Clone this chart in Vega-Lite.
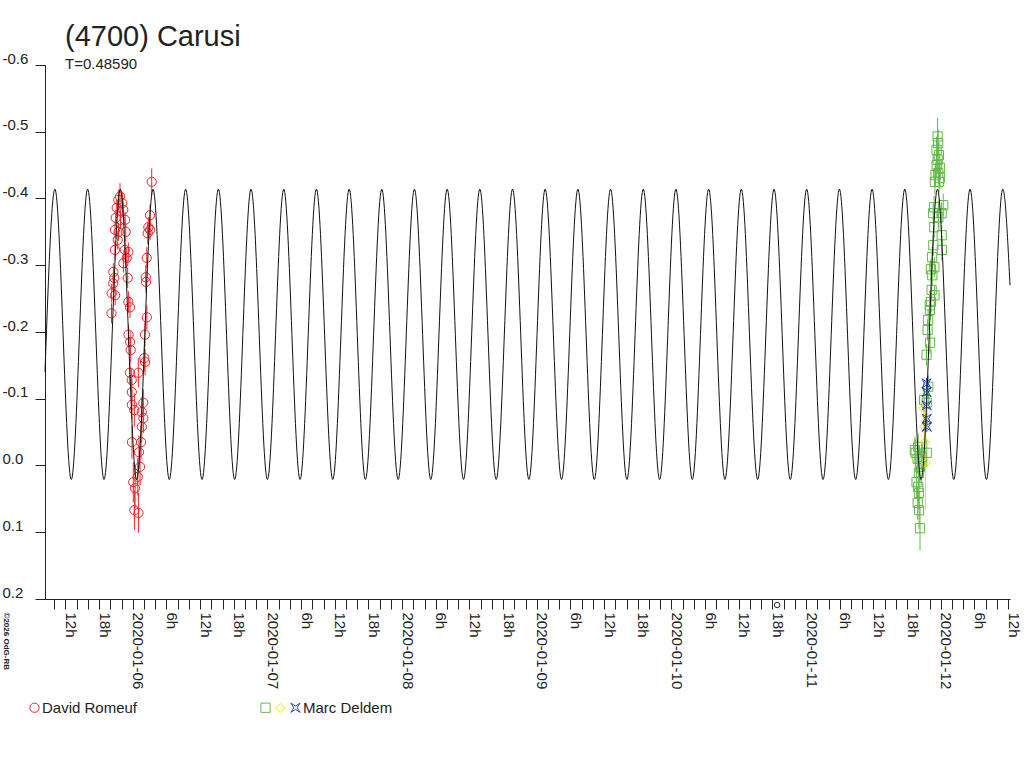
{
  "$schema": "https://vega.github.io/schema/vega-lite/v6.json",
  "width": 965,
  "height": 534,
  "autosize": {"type": "none"},
  "padding": {"left": 45, "top": 65, "right": 14, "bottom": 169},
  "background": "white",
  "config": {
    "view": {"stroke": null},
    "font": "Liberation Sans"
  },
  "title": {
    "text": "(4700) Carusi",
    "subtitle": "T=0.48590",
    "anchor": "start",
    "frame": "group",
    "dx": 20,
    "offset": -21,
    "fontSize": 29,
    "fontWeight": "normal",
    "color": "#222222",
    "subtitleFontSize": 15,
    "subtitleColor": "#222222",
    "subtitlePadding": 5
  },
  "datasets": {
    "model": [
      {"t": "2020-01-05T08:22", "mag": -0.14},
      {"t": "2020-01-05T10:08", "mag": -0.414},
      {"t": "2020-01-05T13:03", "mag": 0.021},
      {"t": "2020-01-05T15:58", "mag": -0.414},
      {"t": "2020-01-05T18:53", "mag": 0.021},
      {"t": "2020-01-05T21:47", "mag": -0.414},
      {"t": "2020-01-06T00:42", "mag": 0.021},
      {"t": "2020-01-06T03:37", "mag": -0.414},
      {"t": "2020-01-06T06:31", "mag": 0.021},
      {"t": "2020-01-06T09:26", "mag": -0.414},
      {"t": "2020-01-06T12:21", "mag": 0.021},
      {"t": "2020-01-06T15:16", "mag": -0.414},
      {"t": "2020-01-06T18:10", "mag": 0.021},
      {"t": "2020-01-06T21:05", "mag": -0.414},
      {"t": "2020-01-07T00:00", "mag": 0.021},
      {"t": "2020-01-07T02:55", "mag": -0.414},
      {"t": "2020-01-07T05:49", "mag": 0.021},
      {"t": "2020-01-07T08:44", "mag": -0.414},
      {"t": "2020-01-07T11:39", "mag": 0.021},
      {"t": "2020-01-07T14:34", "mag": -0.414},
      {"t": "2020-01-07T17:28", "mag": 0.021},
      {"t": "2020-01-07T20:23", "mag": -0.414},
      {"t": "2020-01-07T23:18", "mag": 0.021},
      {"t": "2020-01-08T02:12", "mag": -0.414},
      {"t": "2020-01-08T05:07", "mag": 0.021},
      {"t": "2020-01-08T08:02", "mag": -0.414},
      {"t": "2020-01-08T10:57", "mag": 0.021},
      {"t": "2020-01-08T13:51", "mag": -0.414},
      {"t": "2020-01-08T16:46", "mag": 0.021},
      {"t": "2020-01-08T19:41", "mag": -0.414},
      {"t": "2020-01-08T22:36", "mag": 0.021},
      {"t": "2020-01-09T01:30", "mag": -0.414},
      {"t": "2020-01-09T04:25", "mag": 0.021},
      {"t": "2020-01-09T07:20", "mag": -0.414},
      {"t": "2020-01-09T10:15", "mag": 0.021},
      {"t": "2020-01-09T13:09", "mag": -0.414},
      {"t": "2020-01-09T16:04", "mag": 0.021},
      {"t": "2020-01-09T18:59", "mag": -0.414},
      {"t": "2020-01-09T21:54", "mag": 0.021},
      {"t": "2020-01-10T00:48", "mag": -0.414},
      {"t": "2020-01-10T03:43", "mag": 0.021},
      {"t": "2020-01-10T06:38", "mag": -0.414},
      {"t": "2020-01-10T09:32", "mag": 0.021},
      {"t": "2020-01-10T12:27", "mag": -0.414},
      {"t": "2020-01-10T15:22", "mag": 0.021},
      {"t": "2020-01-10T18:17", "mag": -0.414},
      {"t": "2020-01-10T21:11", "mag": 0.021},
      {"t": "2020-01-11T00:06", "mag": -0.414},
      {"t": "2020-01-11T03:01", "mag": 0.021},
      {"t": "2020-01-11T05:56", "mag": -0.414},
      {"t": "2020-01-11T08:50", "mag": 0.021},
      {"t": "2020-01-11T11:45", "mag": -0.414},
      {"t": "2020-01-11T14:40", "mag": 0.021},
      {"t": "2020-01-11T17:35", "mag": -0.414},
      {"t": "2020-01-11T20:29", "mag": 0.021},
      {"t": "2020-01-11T23:24", "mag": -0.414},
      {"t": "2020-01-12T02:19", "mag": 0.021},
      {"t": "2020-01-12T05:13", "mag": -0.414},
      {"t": "2020-01-12T08:08", "mag": 0.021},
      {"t": "2020-01-12T11:03", "mag": -0.414},
      {"t": "2020-01-12T12:20", "mag": -0.27}
    ],
    "obs": [
      {"s": "R", "t": "2020-01-05T20:13", "mag": -0.228, "lo": -0.243, "hi": -0.213},
      {"s": "R", "t": "2020-01-05T20:15", "mag": -0.258, "lo": -0.272, "hi": -0.244},
      {"s": "R", "t": "2020-01-05T20:31", "mag": -0.273, "lo": -0.285, "hi": -0.261},
      {"s": "R", "t": "2020-01-05T20:33", "mag": -0.290, "lo": -0.303, "hi": -0.277},
      {"s": "R", "t": "2020-01-05T20:43", "mag": -0.281, "lo": -0.293, "hi": -0.269},
      {"s": "R", "t": "2020-01-05T20:50", "mag": -0.323, "lo": -0.337, "hi": -0.309},
      {"s": "R", "t": "2020-01-05T20:51", "mag": -0.353, "lo": -0.366, "hi": -0.340},
      {"s": "R", "t": "2020-01-05T20:52", "mag": -0.255, "lo": -0.270, "hi": -0.240},
      {"s": "R", "t": "2020-01-05T20:58", "mag": -0.371, "lo": -0.383, "hi": -0.359},
      {"s": "R", "t": "2020-01-05T21:09", "mag": -0.386, "lo": -0.399, "hi": -0.373},
      {"s": "R", "t": "2020-01-05T21:20", "mag": -0.338, "lo": -0.352, "hi": -0.324},
      {"s": "R", "t": "2020-01-05T21:26", "mag": -0.398, "lo": -0.413, "hi": -0.383},
      {"s": "R", "t": "2020-01-05T21:28", "mag": -0.350, "lo": -0.363, "hi": -0.337},
      {"s": "R", "t": "2020-01-05T21:44", "mag": -0.403, "lo": -0.423, "hi": -0.383},
      {"s": "R", "t": "2020-01-05T21:49", "mag": -0.368, "lo": -0.382, "hi": -0.354},
      {"s": "R", "t": "2020-01-05T22:09", "mag": -0.393, "lo": -0.408, "hi": -0.378},
      {"s": "R", "t": "2020-01-05T22:19", "mag": -0.383, "lo": -0.396, "hi": -0.370},
      {"s": "R", "t": "2020-01-05T22:20", "mag": -0.303, "lo": -0.317, "hi": -0.289},
      {"s": "R", "t": "2020-01-05T22:36", "mag": -0.323, "lo": -0.338, "hi": -0.308},
      {"s": "R", "t": "2020-01-05T22:38", "mag": -0.368, "lo": -0.380, "hi": -0.356},
      {"s": "R", "t": "2020-01-05T22:45", "mag": -0.350, "lo": -0.364, "hi": -0.336},
      {"s": "R", "t": "2020-01-05T22:56", "mag": -0.311, "lo": -0.327, "hi": -0.295},
      {"s": "R", "t": "2020-01-05T23:06", "mag": -0.281, "lo": -0.296, "hi": -0.266},
      {"s": "R", "t": "2020-01-05T23:13", "mag": -0.320, "lo": -0.334, "hi": -0.306},
      {"s": "R", "t": "2020-01-05T23:14", "mag": -0.245, "lo": -0.261, "hi": -0.229},
      {"s": "R", "t": "2020-01-05T23:15", "mag": -0.196, "lo": -0.211, "hi": -0.181},
      {"s": "R", "t": "2020-01-05T23:30", "mag": -0.139, "lo": -0.157, "hi": -0.121},
      {"s": "R", "t": "2020-01-05T23:31", "mag": -0.237, "lo": -0.253, "hi": -0.221},
      {"s": "R", "t": "2020-01-05T23:32", "mag": -0.185, "lo": -0.202, "hi": -0.168},
      {"s": "R", "t": "2020-01-05T23:38", "mag": -0.173, "lo": -0.191, "hi": -0.155},
      {"s": "R", "t": "2020-01-05T23:49", "mag": -0.128, "lo": -0.146, "hi": -0.110},
      {"s": "R", "t": "2020-01-05T23:50", "mag": -0.110, "lo": -0.130, "hi": -0.090},
      {"s": "R", "t": "2020-01-05T23:51", "mag": -0.091, "lo": -0.113, "hi": -0.069},
      {"s": "R", "t": "2020-01-05T23:52", "mag": -0.035, "lo": -0.060, "hi": -0.010},
      {"s": "R", "t": "2020-01-06T00:06", "mag": 0.025, "lo": -0.005, "hi": 0.055},
      {"s": "R", "t": "2020-01-06T00:17", "mag": -0.083, "lo": -0.108, "hi": -0.058},
      {"s": "R", "t": "2020-01-06T00:18", "mag": 0.067, "lo": 0.037, "hi": 0.097},
      {"s": "R", "t": "2020-01-06T00:25", "mag": 0.034, "lo": 0.004, "hi": 0.064},
      {"s": "R", "t": "2020-01-06T00:54", "mag": 0.017, "lo": -0.011, "hi": 0.045},
      {"s": "R", "t": "2020-01-06T01:00", "mag": -0.139, "lo": -0.161, "hi": -0.117},
      {"s": "R", "t": "2020-01-06T01:01", "mag": 0.071, "lo": 0.041, "hi": 0.101},
      {"s": "R", "t": "2020-01-06T01:07", "mag": -0.020, "lo": -0.045, "hi": 0.005},
      {"s": "R", "t": "2020-01-06T01:18", "mag": 0.002, "lo": -0.026, "hi": 0.030},
      {"s": "R", "t": "2020-01-06T01:29", "mag": -0.035, "lo": -0.060, "hi": -0.010},
      {"s": "R", "t": "2020-01-06T01:36", "mag": -0.080, "lo": -0.102, "hi": -0.058},
      {"s": "R", "t": "2020-01-06T01:37", "mag": -0.058, "lo": -0.082, "hi": -0.034},
      {"s": "R", "t": "2020-01-06T01:53", "mag": -0.094, "lo": -0.114, "hi": -0.074},
      {"s": "R", "t": "2020-01-06T01:54", "mag": -0.071, "lo": -0.093, "hi": -0.049},
      {"s": "R", "t": "2020-01-06T02:04", "mag": -0.161, "lo": -0.181, "hi": -0.141},
      {"s": "R", "t": "2020-01-06T02:11", "mag": -0.196, "lo": -0.214, "hi": -0.178},
      {"s": "R", "t": "2020-01-06T02:12", "mag": -0.155, "lo": -0.175, "hi": -0.135},
      {"s": "R", "t": "2020-01-06T02:19", "mag": -0.282, "lo": -0.300, "hi": -0.264},
      {"s": "R", "t": "2020-01-06T02:22", "mag": -0.275, "lo": -0.292, "hi": -0.258},
      {"s": "R", "t": "2020-01-06T02:30", "mag": -0.311, "lo": -0.327, "hi": -0.295},
      {"s": "R", "t": "2020-01-06T02:31", "mag": -0.222, "lo": -0.240, "hi": -0.204},
      {"s": "R", "t": "2020-01-06T02:40", "mag": -0.348, "lo": -0.364, "hi": -0.332},
      {"s": "R", "t": "2020-01-06T02:47", "mag": -0.357, "lo": -0.372, "hi": -0.342},
      {"s": "R", "t": "2020-01-06T03:05", "mag": -0.375, "lo": -0.391, "hi": -0.359},
      {"s": "R", "t": "2020-01-06T03:06", "mag": -0.353, "lo": -0.368, "hi": -0.338},
      {"s": "R", "t": "2020-01-06T03:23", "mag": -0.425, "lo": -0.445, "hi": -0.405},
      {"s": "Dg", "t": "2020-01-11T19:23", "mag": -0.023, "lo": -0.043, "hi": -0.003},
      {"s": "Dg", "t": "2020-01-11T19:31", "mag": -0.019, "lo": -0.039, "hi": 0.001},
      {"s": "Dg", "t": "2020-01-11T19:41", "mag": 0.025, "lo": 0.000, "hi": 0.050},
      {"s": "Dg", "t": "2020-01-11T19:52", "mag": -0.010, "lo": -0.032, "hi": 0.012},
      {"s": "Dg", "t": "2020-01-11T19:53", "mag": 0.056, "lo": 0.031, "hi": 0.081},
      {"s": "Dg", "t": "2020-01-11T19:58", "mag": -0.028, "lo": -0.048, "hi": -0.008},
      {"s": "Dg", "t": "2020-01-11T19:59", "mag": 0.032, "lo": 0.008, "hi": 0.056},
      {"s": "Dg", "t": "2020-01-11T20:06", "mag": 0.011, "lo": -0.011, "hi": 0.033},
      {"s": "Dg", "t": "2020-01-11T20:07", "mag": 0.041, "lo": 0.016, "hi": 0.066},
      {"s": "Dg", "t": "2020-01-11T20:08", "mag": 0.067, "lo": 0.039, "hi": 0.095},
      {"s": "Dg", "t": "2020-01-11T20:17", "mag": 0.002, "lo": -0.020, "hi": 0.024},
      {"s": "Dg", "t": "2020-01-11T20:18", "mag": 0.094, "lo": 0.061, "hi": 0.127},
      {"s": "Dg", "t": "2020-01-11T20:35", "mag": -0.013, "lo": -0.033, "hi": 0.007},
      {"s": "Dg", "t": "2020-01-11T21:02", "mag": -0.098, "lo": -0.116, "hi": -0.080},
      {"s": "Dg", "t": "2020-01-11T21:28", "mag": -0.166, "lo": -0.182, "hi": -0.150},
      {"s": "Dg", "t": "2020-01-11T21:29", "mag": -0.094, "lo": -0.112, "hi": -0.076},
      {"s": "Dg", "t": "2020-01-11T21:30", "mag": -0.019, "lo": -0.039, "hi": 0.001},
      {"s": "Dg", "t": "2020-01-11T21:39", "mag": -0.203, "lo": -0.219, "hi": -0.187},
      {"s": "Dg", "t": "2020-01-11T21:45", "mag": -0.218, "lo": -0.233, "hi": -0.203},
      {"s": "Dg", "t": "2020-01-11T21:46", "mag": -0.118, "lo": -0.136, "hi": -0.100},
      {"s": "Dg", "t": "2020-01-11T22:03", "mag": -0.240, "lo": -0.255, "hi": -0.225},
      {"s": "Dg", "t": "2020-01-11T22:04", "mag": -0.233, "lo": -0.249, "hi": -0.217},
      {"s": "Dg", "t": "2020-01-11T22:05", "mag": -0.184, "lo": -0.201, "hi": -0.167},
      {"s": "Dg", "t": "2020-01-11T22:14", "mag": -0.294, "lo": -0.309, "hi": -0.279},
      {"s": "Dg", "t": "2020-01-11T22:15", "mag": -0.245, "lo": -0.261, "hi": -0.229},
      {"s": "Dg", "t": "2020-01-11T22:22", "mag": -0.263, "lo": -0.278, "hi": -0.248},
      {"s": "Dg", "t": "2020-01-11T22:28", "mag": -0.312, "lo": -0.328, "hi": -0.296},
      {"s": "Dg", "t": "2020-01-11T22:29", "mag": -0.285, "lo": -0.300, "hi": -0.270},
      {"s": "Dg", "t": "2020-01-11T22:39", "mag": -0.378, "lo": -0.394, "hi": -0.362},
      {"s": "Dg", "t": "2020-01-11T22:40", "mag": -0.330, "lo": -0.346, "hi": -0.314},
      {"s": "Dg", "t": "2020-01-11T22:49", "mag": -0.387, "lo": -0.404, "hi": -0.370},
      {"s": "Dg", "t": "2020-01-11T22:50", "mag": -0.357, "lo": -0.373, "hi": -0.341},
      {"s": "Dg", "t": "2020-01-11T22:51", "mag": -0.297, "lo": -0.312, "hi": -0.282},
      {"s": "Dg", "t": "2020-01-11T22:52", "mag": -0.255, "lo": -0.270, "hi": -0.240},
      {"s": "Dg", "t": "2020-01-11T22:57", "mag": -0.425, "lo": -0.443, "hi": -0.407},
      {"s": "Dg", "t": "2020-01-11T23:04", "mag": -0.435, "lo": -0.453, "hi": -0.417},
      {"s": "Dg", "t": "2020-01-11T23:15", "mag": -0.473, "lo": -0.493, "hi": -0.453},
      {"s": "Dg", "t": "2020-01-11T23:16", "mag": -0.450, "lo": -0.468, "hi": -0.432},
      {"s": "Dg", "t": "2020-01-11T23:26", "mag": -0.493, "lo": -0.521, "hi": -0.465},
      {"s": "Dg", "t": "2020-01-11T23:27", "mag": -0.458, "lo": -0.476, "hi": -0.440},
      {"s": "Dg", "t": "2020-01-11T23:32", "mag": -0.483, "lo": -0.503, "hi": -0.463},
      {"s": "Dg", "t": "2020-01-11T23:33", "mag": -0.438, "lo": -0.455, "hi": -0.421},
      {"s": "Dg", "t": "2020-01-11T23:34", "mag": -0.372, "lo": -0.388, "hi": -0.356},
      {"s": "Dg", "t": "2020-01-11T23:40", "mag": -0.465, "lo": -0.485, "hi": -0.445},
      {"s": "Dg", "t": "2020-01-11T23:41", "mag": -0.425, "lo": -0.442, "hi": -0.408},
      {"s": "Dg", "t": "2020-01-11T23:50", "mag": -0.446, "lo": -0.464, "hi": -0.428},
      {"s": "Dg", "t": "2020-01-11T23:51", "mag": -0.431, "lo": -0.448, "hi": -0.414},
      {"s": "Dg", "t": "2020-01-12T00:09", "mag": -0.378, "lo": -0.394, "hi": -0.362},
      {"s": "Dg", "t": "2020-01-12T00:10", "mag": -0.345, "lo": -0.361, "hi": -0.329},
      {"s": "Dg", "t": "2020-01-12T00:11", "mag": -0.323, "lo": -0.339, "hi": -0.307},
      {"s": "Dg", "t": "2020-01-12T00:26", "mag": -0.390, "lo": -0.407, "hi": -0.373},
      {"s": "Dy", "t": "2020-01-11T20:52", "mag": -0.086, "lo": -0.116, "hi": -0.056},
      {"s": "Dy", "t": "2020-01-11T21:02", "mag": -0.058, "lo": -0.093, "hi": -0.023},
      {"s": "Dy", "t": "2020-01-11T21:10", "mag": -0.035, "lo": -0.075, "hi": 0.005},
      {"s": "Dy", "t": "2020-01-11T21:17", "mag": -0.004, "lo": -0.074, "hi": 0.066},
      {"s": "Db", "t": "2020-01-11T21:27", "mag": -0.123, "lo": -0.131, "hi": -0.115},
      {"s": "Db", "t": "2020-01-11T21:28", "mag": -0.110, "lo": -0.118, "hi": -0.102},
      {"s": "Db", "t": "2020-01-11T21:29", "mag": -0.090, "lo": -0.098, "hi": -0.082},
      {"s": "Db", "t": "2020-01-11T21:30", "mag": -0.070, "lo": -0.078, "hi": -0.062},
      {"s": "Db", "t": "2020-01-11T21:31", "mag": -0.058, "lo": -0.066, "hi": -0.050}
    ],
    "marker": [
      {"t": "2020-01-10T18:50", "mag": 0.209}
    ]
  },
  "layer": [
    {
      "data": {"name": "obs"},
      "mark": {"type": "rule", "strokeWidth": 1},
      "encoding": {
        "x": {
          "field": "t",
          "type": "temporal",
          "scale": {
            "domain": [
              {"year": 2020, "month": 1, "date": 5, "hours": 8, "minutes": 22},
              {"year": 2020, "month": 1, "date": 12, "hours": 12, "minutes": 20}
            ]
          },
          "axis": {
            "grid": false,
            "tickCount": 200,
            "values": [
              {"year": 2020, "month": 1, "date": 5, "hours": 10}, {"year": 2020, "month": 1, "date": 5, "hours": 12},
              {"year": 2020, "month": 1, "date": 5, "hours": 14}, {"year": 2020, "month": 1, "date": 5, "hours": 16},
              {"year": 2020, "month": 1, "date": 5, "hours": 18}, {"year": 2020, "month": 1, "date": 5, "hours": 20},
              {"year": 2020, "month": 1, "date": 5, "hours": 22},
              {"year": 2020, "month": 1, "date": 6, "hours": 0}, {"year": 2020, "month": 1, "date": 6, "hours": 2},
              {"year": 2020, "month": 1, "date": 6, "hours": 4}, {"year": 2020, "month": 1, "date": 6, "hours": 6},
              {"year": 2020, "month": 1, "date": 6, "hours": 8}, {"year": 2020, "month": 1, "date": 6, "hours": 10},
              {"year": 2020, "month": 1, "date": 6, "hours": 12}, {"year": 2020, "month": 1, "date": 6, "hours": 14},
              {"year": 2020, "month": 1, "date": 6, "hours": 16}, {"year": 2020, "month": 1, "date": 6, "hours": 18},
              {"year": 2020, "month": 1, "date": 6, "hours": 20}, {"year": 2020, "month": 1, "date": 6, "hours": 22},
              {"year": 2020, "month": 1, "date": 7, "hours": 0}, {"year": 2020, "month": 1, "date": 7, "hours": 2},
              {"year": 2020, "month": 1, "date": 7, "hours": 4}, {"year": 2020, "month": 1, "date": 7, "hours": 6},
              {"year": 2020, "month": 1, "date": 7, "hours": 8}, {"year": 2020, "month": 1, "date": 7, "hours": 10},
              {"year": 2020, "month": 1, "date": 7, "hours": 12}, {"year": 2020, "month": 1, "date": 7, "hours": 14},
              {"year": 2020, "month": 1, "date": 7, "hours": 16}, {"year": 2020, "month": 1, "date": 7, "hours": 18},
              {"year": 2020, "month": 1, "date": 7, "hours": 20}, {"year": 2020, "month": 1, "date": 7, "hours": 22},
              {"year": 2020, "month": 1, "date": 8, "hours": 0}, {"year": 2020, "month": 1, "date": 8, "hours": 2},
              {"year": 2020, "month": 1, "date": 8, "hours": 4}, {"year": 2020, "month": 1, "date": 8, "hours": 6},
              {"year": 2020, "month": 1, "date": 8, "hours": 8}, {"year": 2020, "month": 1, "date": 8, "hours": 10},
              {"year": 2020, "month": 1, "date": 8, "hours": 12}, {"year": 2020, "month": 1, "date": 8, "hours": 14},
              {"year": 2020, "month": 1, "date": 8, "hours": 16}, {"year": 2020, "month": 1, "date": 8, "hours": 18},
              {"year": 2020, "month": 1, "date": 8, "hours": 20}, {"year": 2020, "month": 1, "date": 8, "hours": 22},
              {"year": 2020, "month": 1, "date": 9, "hours": 0}, {"year": 2020, "month": 1, "date": 9, "hours": 2},
              {"year": 2020, "month": 1, "date": 9, "hours": 4}, {"year": 2020, "month": 1, "date": 9, "hours": 6},
              {"year": 2020, "month": 1, "date": 9, "hours": 8}, {"year": 2020, "month": 1, "date": 9, "hours": 10},
              {"year": 2020, "month": 1, "date": 9, "hours": 12}, {"year": 2020, "month": 1, "date": 9, "hours": 14},
              {"year": 2020, "month": 1, "date": 9, "hours": 16}, {"year": 2020, "month": 1, "date": 9, "hours": 18},
              {"year": 2020, "month": 1, "date": 9, "hours": 20}, {"year": 2020, "month": 1, "date": 9, "hours": 22},
              {"year": 2020, "month": 1, "date": 10, "hours": 0}, {"year": 2020, "month": 1, "date": 10, "hours": 2},
              {"year": 2020, "month": 1, "date": 10, "hours": 4}, {"year": 2020, "month": 1, "date": 10, "hours": 6},
              {"year": 2020, "month": 1, "date": 10, "hours": 8}, {"year": 2020, "month": 1, "date": 10, "hours": 10},
              {"year": 2020, "month": 1, "date": 10, "hours": 12}, {"year": 2020, "month": 1, "date": 10, "hours": 14},
              {"year": 2020, "month": 1, "date": 10, "hours": 16}, {"year": 2020, "month": 1, "date": 10, "hours": 18},
              {"year": 2020, "month": 1, "date": 10, "hours": 20}, {"year": 2020, "month": 1, "date": 10, "hours": 22},
              {"year": 2020, "month": 1, "date": 11, "hours": 0}, {"year": 2020, "month": 1, "date": 11, "hours": 2},
              {"year": 2020, "month": 1, "date": 11, "hours": 4}, {"year": 2020, "month": 1, "date": 11, "hours": 6},
              {"year": 2020, "month": 1, "date": 11, "hours": 8}, {"year": 2020, "month": 1, "date": 11, "hours": 10},
              {"year": 2020, "month": 1, "date": 11, "hours": 12}, {"year": 2020, "month": 1, "date": 11, "hours": 14},
              {"year": 2020, "month": 1, "date": 11, "hours": 16}, {"year": 2020, "month": 1, "date": 11, "hours": 18},
              {"year": 2020, "month": 1, "date": 11, "hours": 20}, {"year": 2020, "month": 1, "date": 11, "hours": 22},
              {"year": 2020, "month": 1, "date": 12, "hours": 0}, {"year": 2020, "month": 1, "date": 12, "hours": 2},
              {"year": 2020, "month": 1, "date": 12, "hours": 4}, {"year": 2020, "month": 1, "date": 12, "hours": 6},
              {"year": 2020, "month": 1, "date": 12, "hours": 8}, {"year": 2020, "month": 1, "date": 12, "hours": 10},
              {"year": 2020, "month": 1, "date": 12, "hours": 12}
            ],
            "labelExpr": "hours(datum.value) % 6 != 0 ? '' : (hours(datum.value) == 0 ? timeFormat(datum.value, '%Y-%m-%d') : hours(datum.value) + 'h')",
            "labelOverlap": false,
            "labelFlush": false,
            "labelAngle": 90,
            "labelAlign": "left",
            "labelBaseline": "alphabetic",
            "labelPadding": 3,
            "labelFontSize": 15,
            "labelColor": "#222222",
            "tickSize": 10,
            "tickColor": "#222222",
            "domainColor": "#222222",
            "title": "©2026 OdG-RB",
            "titleAngle": 90,
            "titleX": -40,
            "titleY": 13,
            "titleAlign": "left",
            "titleBaseline": "middle",
            "titleFontSize": 8,
            "titleFontWeight": "bold",
            "titleColor": "#222222"
          }
        },
        "y": {
          "field": "lo",
          "type": "quantitative",
          "scale": {"domain": [-0.6, 0.2], "reverse": true, "nice": false, "zero": false},
          "axis": {
            "grid": false,
            "values": [-0.6, -0.5, -0.4, -0.3, -0.2, -0.1, 0, 0.1, 0.2],
            "labelExpr": "replace(format(datum.value, '.1f'), '−', '-')",
            "labelAlign": "left",
            "labelBaseline": "alphabetic",
            "labelPadding": 33,
            "labelOffset": -2,
            "labelFontSize": 15,
            "labelColor": "#222222",
            "tickSize": 10,
            "tickColor": "#222222",
            "domainColor": "#222222",
            "title": null
          }
        },
        "y2": {"field": "hi"},
        "color": {"field": "s", "type": "nominal",
          "scale": {"domain": ["R", "Dg", "Dy", "Db"], "range": ["#e8282c", "#62b848", "#f2e400", "#2846a8"]}}
      }
    },
    {
      "data": {"name": "obs"},
      "mark": {"type": "point", "filled": false, "strokeWidth": 1, "size": 85, "opacity": 1},
      "encoding": {
        "x": {"field": "t", "type": "temporal"},
        "y": {"field": "mag", "type": "quantitative"},
        "color": {"field": "s", "type": "nominal",
          "legend": {
            "orient": "none",
            "legendX": -18,
            "legendY": 635,
            "direction": "horizontal",
            "title": null,
            "padding": 0,
            "columnPadding": 0,
            "labelOffset": 0,
            "labelFontSize": 15,
            "labelColor": "#222222",
            "labelLimit": 400,
            "symbolStrokeWidth": 1,
            "symbolSize": 85,
            "labelExpr": "datum.value == 'R' ? '\u00a0David Romeuf\u00a0\u00a0\u00a0\u00a0\u00a0\u00a0\u00a0\u00a0\u00a0\u00a0\u00a0\u00a0\u00a0\u00a0\u00a0\u00a0\u00a0\u00a0\u00a0\u00a0\u00a0\u00a0\u00a0\u00a0\u00a0\u00a0\u00a0\u00a0\u00a0\u200b' : (datum.value == 'Db' ? '\u00a0Marc Deldem' : '')"
          }
        },
        "shape": {"field": "s", "type": "nominal",
          "scale": {"domain": ["R", "Dg", "Dy", "Db"], "range": ["circle", "square", "diamond", "M-1,-1L-0.35,0L-1,1L0,0.35L1,1L0.35,0L1,-1L0,-0.35Z"]}
        }
      }
    },
    {
      "data": {"name": "model"},
      "mark": {"type": "line", "interpolate": "monotone", "color": "#111111", "strokeWidth": 1},
      "encoding": {
        "x": {"field": "t", "type": "temporal"},
        "y": {"field": "mag", "type": "quantitative"}
      }
    },
    {
      "data": {"name": "marker"},
      "mark": {"type": "point", "shape": "circle", "filled": false, "size": 30, "strokeWidth": 1, "color": "#222222", "opacity": 1},
      "encoding": {
        "x": {"field": "t", "type": "temporal"},
        "y": {"field": "mag", "type": "quantitative"}
      }
    }
  ]
}
